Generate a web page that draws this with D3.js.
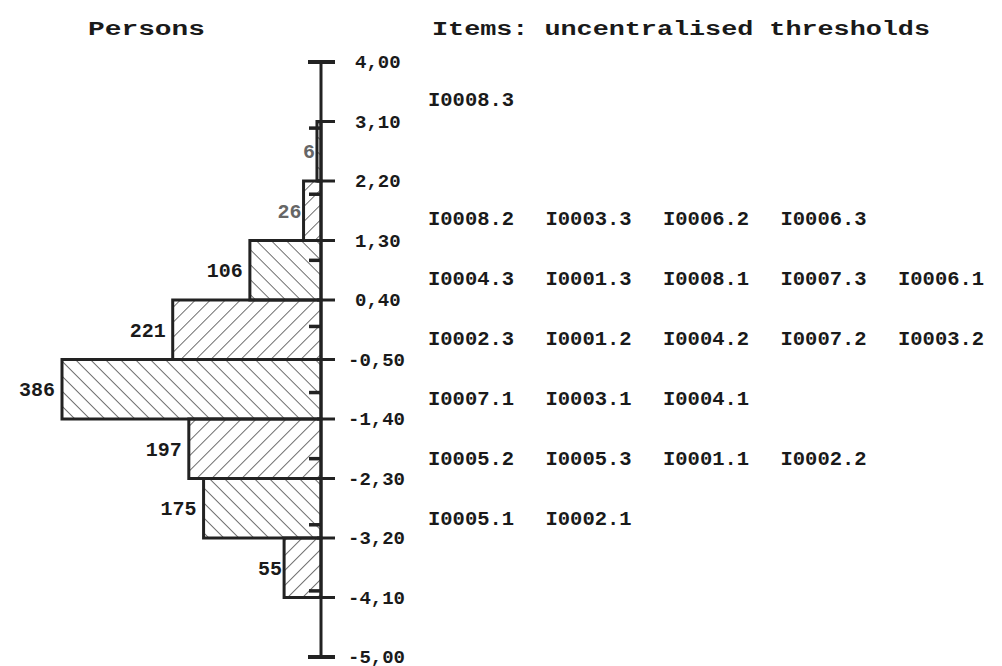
<!DOCTYPE html>
<html>
<head>
<meta charset="utf-8">
<script src="https://cdn.jsdelivr.net/npm/d3@7"></script>
<style>
  body { margin: 0; background: #fff; }
  text { font-family: "Liberation Mono", "DejaVu Sans Mono", monospace; font-weight: bold; fill: #1a1a1a; }
</style>
</head>
<body>
<svg id="chart" width="1002" height="666"></svg>
<script>
// thresholds (top to bottom) and person counts per interval
var thresholds = [4.00, 3.10, 2.20, 1.30, 0.40, -0.50, -1.40, -2.30, -3.20, -4.10, -5.00];
var personCounts = [0, 6, 26, 106, 221, 386, 197, 175, 55, 0];
var minorTicks = [3, 2, 1, 0, -1, -2, -3, -4];

// items placed in each interval (index = interval index from top)
var itemIntervals = [0, 2, 3, 4, 5, 6, 7];
var itemLabels = [
  ["I0008.3"],
  ["I0008.2", "I0003.3", "I0006.2", "I0006.3"],
  ["I0004.3", "I0001.3", "I0008.1", "I0007.3", "I0006.1"],
  ["I0002.3", "I0001.2", "I0004.2", "I0007.2", "I0003.2"],
  ["I0007.1", "I0003.1", "I0004.1"],
  ["I0005.2", "I0005.3", "I0001.1", "I0002.2"],
  ["I0005.1", "I0002.1"]
];

var svg = d3.select("#chart");
var axisX = 321;

var y = d3.scaleLinear().domain([4, -5]).range([62, 657]);
var x = d3.scaleLinear().domain([0, 386]).range([axisX, 62]);

// hatch patterns
var defs = svg.append("defs");
[["hatchF", 45], ["hatchB", -45]].forEach(function(p) {
  defs.append("pattern")
    .attr("id", p[0])
    .attr("patternUnits", "userSpaceOnUse")
    .attr("width", 10.6)
    .attr("height", 10.6)
    .attr("patternTransform", "rotate(" + p[1] + ")")
    .append("line")
    .attr("x1", 0).attr("y1", -2)
    .attr("x2", 0).attr("y2", 13)
    .attr("stroke", "#333")
    .attr("stroke-width", 1.4);
});

var fmt = function(v) { return d3.format(".2f")(v).replace(".", ",").replace("−", "-"); };

// bars
var bins = personCounts.map(function(c, i) {
  return {count: c, hi: thresholds[i], lo: thresholds[i + 1], i: i};
}).filter(function(d) { return d.count > 0; });

svg.selectAll(".bar")
  .data(bins)
  .enter().append("rect")
  .attr("class", "bar")
  .attr("x", function(d) { return x(d.count); })
  .attr("y", function(d) { return y(d.hi); })
  .attr("width", function(d) { return axisX - x(d.count); })
  .attr("height", function(d) { return y(d.lo) - y(d.hi); })
  .attr("fill", function(d) { return d.i % 2 === 0 ? "url(#hatchF)" : "url(#hatchB)"; })
  .attr("stroke", "#222")
  .attr("stroke-width", 3);

// count labels
svg.selectAll(".cnt")
  .data(bins)
  .enter().append("text")
  .attr("class", "cnt")
  .attr("x", function(d) { return x(d.count) - (d.count < 60 ? 2 : 7); })
  .attr("y", function(d) { return (y(d.hi) + y(d.lo)) / 2; })
  .attr("dy", "0.35em")
  .attr("text-anchor", "end")
  .attr("font-size", 20)
  .style("fill", function(d) { return d.count < 30 ? "#666" : "#1a1a1a"; })
  .text(function(d) { return d.count; });

// axis line
svg.append("line")
  .attr("x1", axisX).attr("x2", axisX)
  .attr("y1", y(4)).attr("y2", y(-5))
  .attr("stroke", "#222").attr("stroke-width", 3);

// threshold ticks
svg.selectAll(".tick")
  .data(thresholds)
  .enter().append("line")
  .attr("x1", function(d, i) { return (i === 0 || i === thresholds.length - 1) ? 308 : 317; })
  .attr("x2", 335)
  .attr("y1", function(d) { return y(d); })
  .attr("y2", function(d) { return y(d); })
  .attr("stroke", "#222")
  .attr("stroke-width", function(d, i) { return (i === 0 || i === thresholds.length - 1) ? 4 : 3; });

// minor ticks (left side)
svg.selectAll(".minor")
  .data(minorTicks)
  .enter().append("line")
  .attr("x1", 309).attr("x2", axisX)
  .attr("y1", function(d) { return y(d); })
  .attr("y2", function(d) { return y(d); })
  .attr("stroke", "#222")
  .attr("stroke-width", 3.5);

// threshold labels
svg.selectAll(".tlab")
  .data(thresholds)
  .enter().append("text")
  .attr("class", "tlab")
  .attr("x", function(d) { return d >= 0 ? 355 : 348; })
  .attr("y", function(d) { return y(d); })
  .attr("dy", "0.33em")
  .attr("font-size", 19)
  .text(function(d) { return fmt(d); });

// item labels
itemLabels.forEach(function(row, r) {
  var k = itemIntervals[r];
  var yc = (y(thresholds[k]) + y(thresholds[k + 1])) / 2 + 7 + r * 0.4;
  svg.selectAll(".row" + r)
    .data(row)
    .enter().append("text")
    .attr("x", function(d, j) { return 428 + j * 117.5; })
    .attr("y", yc)
    .attr("dy", "0.35em")
    .attr("font-size", 20.5)
    .text(function(d) { return d; });
});

// titles
svg.append("text")
  .attr("x", 88).attr("y", 28)
  .attr("dy", "0.35em")
  .attr("font-size", 20)
  .attr("textLength", 117)
  .attr("lengthAdjust", "spacingAndGlyphs")
  .text("Persons");

svg.append("text")
  .attr("x", 432).attr("y", 28)
  .attr("dy", "0.35em")
  .attr("font-size", 20)
  .attr("textLength", 498)
  .attr("lengthAdjust", "spacingAndGlyphs")
  .text("Items: uncentralised thresholds");
</script>
</body>
</html>
